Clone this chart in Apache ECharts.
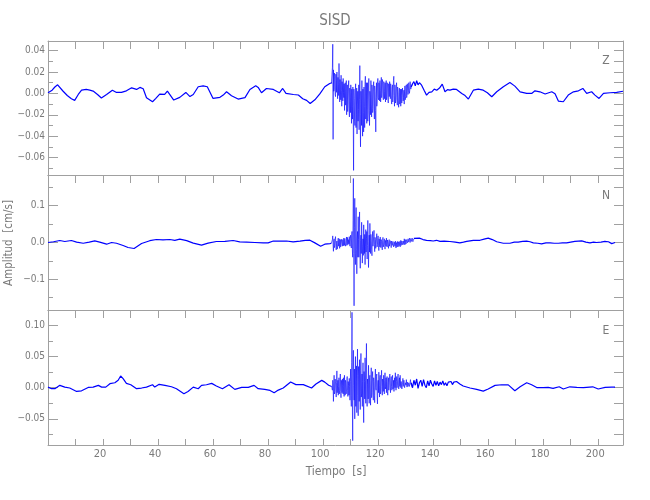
<!DOCTYPE html>
<html>
<head>
<meta charset="utf-8">
<script src="https://cdn.jsdelivr.net/npm/echarts@6/dist/echarts.min.js"></script>
<style>html,body{margin:0;padding:0;background:#fff}#c{width:650px;height:500px}</style>
</head>
<body>
<div id="c"></div>
<script>
// ---------- DATA ----------
const title = 'SISD';
const components = ['Z', 'N', 'E'];
const xTicks = [20, 40, 60, 80, 100, 120, 140, 160, 180, 200];
// strong-motion segment: values evenly spaced in time between start and end
const burstStart = 103.25;
const burstEnds = [132.0, 133.0, 132.0];

// Z component (cm/s)
const zBefore = [[0,0.0006],[1.5,0.003],[2.5,0.006],[3.5,0.008],[4.2,0.007],[5.5,0.002],[7,-0.002],[8.5,-0.005],[9.7,-0.0065],[11,-0.001],[12.2,0.003],[13.9,0.0037],[15.2,0.003],[16.4,0.0022],[18,-0.001],[19.4,-0.0043],[21.3,-0.001],[23.4,0.003],[24.9,0.0009],[26.7,0.001],[28.5,0.0024],[30.4,0.0052],[32.2,0.0037],[33.4,0.0056],[34.6,0.0043],[35.8,-0.004],[38,-0.0078],[39.2,-0.0047],[40.6,-0.0006],[42.4,-0.001],[43.4,0.0022],[45.7,-0.0062],[47.9,-0.0037],[50.1,0.0009],[51.6,-0.003],[52.8,-0.001],[54.6,0.0062],[56.4,0.0071],[57.9,0.0062],[60,-0.0047],[62.5,-0.0037],[63.7,-0.0016],[64.9,0.0015],[66.7,-0.0022],[69.1,-0.0053],[71.6,-0.004],[73.4,0.0037],[75.5,0.0071],[76.4,0.0056],[77.6,0.0006],[79.4,0.0046],[81.9,0.0037],[84.1,0.0006],[85.3,0.0046],[86.5,0],[89.2,-0.001],[91,-0.0015],[92.6,-0.005],[94,-0.0065],[95.3,-0.0095],[97,-0.006],[98.8,-0.0005],[100.6,0.0062],[102.4,0.0093],[103,0.0095]];
const zBurst = [0.010,0.024,0.046,-0.043,0.022,0.002,0.004,0.019,0.016,-0.001,-0.003,0.018,0.012,0.001,0.020,0.006,-0.005,0.015,0.008,-0.002,0.028,0.010,-0.008,0.013,0.004,-0.006,0.017,0.003,-0.012,0.011,0.006,-0.007,0.014,0.001,-0.004,0.009,-0.016,0.004,0.010,-0.011,0.002,0.012,-0.020,-0.006,0.008,-0.017,-0.010,0.006,0.012,-0.014,-0.022,0.005,-0.004,-0.018,0.008,0.001,-0.028,0.004,-0.012,-0.024,0.006,-0.020,-0.072,0.004,-0.005,-0.026,-0.030,0.003,0.009,-0.032,-0.020,0.005,-0.038,-0.010,0.002,-0.026,-0.015,0.008,-0.034,-0.006,0.026,-0.020,-0.050,0.002,-0.008,-0.030,0.012,-0.024,-0.040,0.004,-0.018,-0.036,0.006,-0.012,-0.032,0.008,0.016,-0.024,-0.012,0.010,-0.028,-0.006,0.010,-0.026,-0.020,0.006,0.014,-0.016,-0.030,0.002,-0.004,-0.020,0.012,-0.010,-0.022,0.008,0.004,-0.018,-0.014,0.006,0.011,-0.012,-0.024,0.007,0.002,-0.016,-0.036,-0.004,0.010,-0.012,-0.008,0.009,0.014,-0.004,-0.006,0.010,0.004,-0.007,0.012,0.003,-0.008,0.006,0.015,-0.004,0.000,0.013,0.010,-0.004,-0.006,0.011,0.009,-0.005,0.002,0.010,-0.008,0.004,0.012,-0.006,-0.003,0.010,0.008,-0.004,-0.009,0.009,0.006,-0.003,0.011,0.002,-0.005,0.009,0.004,-0.007,-0.010,0.005,0.008,-0.008,-0.002,0.012,0.016,-0.002,-0.012,0.008,0.006,-0.009,-0.006,0.007,0.010,-0.004,-0.011,0.006,0.002,-0.009,-0.013,0.001,0.005,-0.010,-0.006,0.004,-0.012,-0.002,0.004,-0.009,-0.008,0.005,0.006,-0.007,-0.004,0.003,-0.010,0.002,0.007,-0.006,-0.003,0.006,0.008,-0.004,-0.002,0.009,0.010,-0.001,0.001,0.010,0.011,0.000,0.003,0.011,0.012,0.004,0.006];
const zAfter = [[132.5,0.009],[133,0.011],[133.5,0.007],[134,0.012],[134.5,0.008],[135,0.010],[135.8,0.0077],[136.7,0.003],[137.6,-0.0016],[138.5,0.001],[139.5,0.0015],[140.4,0.004],[141.3,0.003],[142.3,0.005],[143.3,0.0087],[144.3,0.0015],[145.2,0.0035],[146.1,0.003],[147.3,0.004],[148.5,0.0037],[150.4,0],[151.6,-0.002],[152.8,-0.0053],[154.6,0.003],[156.4,0.004],[158.2,0.003],[159.7,0.0006],[161.3,-0.0031],[163.1,0.0015],[165.5,0.0062],[167.9,0.0102],[169.7,0.0068],[171.6,0.0015],[174,0],[175.8,0],[177,0.0024],[178.8,0.0015],[180.7,-0.0006],[183.1,0.0015],[184.3,-0.0003],[185.5,-0.0072],[187.3,-0.0078],[189.1,-0.0016],[191,0.0015],[192.8,0.0024],[194.4,0.0046],[195.8,0],[197.6,0.0015],[198.8,-0.0016],[200.3,-0.0047],[201.9,0],[204.3,0.0006],[206.7,0.0009],[209,0.002]];

// N component (cm/s)
const nBefore = [[0,0],[2,0.002],[4.3,0.0054],[6.1,0.0027],[8.5,0.0054],[10.4,0.001],[12.8,-0.002],[15,0.001],[17,0.0043],[18.8,0.001],[21.3,-0.0046],[23.1,0],[24.9,-0.002],[27.3,-0.0082],[29.1,-0.0136],[31.3,-0.0163],[34,-0.0027],[37,0.0049],[39.4,0.0082],[41.8,0.007],[44.3,0.0082],[46.1,0.006],[47.9,0.009],[50.4,0.005],[52.8,-0.0018],[55.8,-0.0073],[58.2,-0.0018],[61.2,0.0027],[64.3,0.003],[67.3,0.0054],[69.7,0.0016],[72.2,0.001],[75.2,0],[78.2,-0.001],[80,-0.001],[81.9,0.004],[84.3,0.004],[86.7,0.004],[89.1,0.0016],[91.6,0.0036],[93.5,0.006],[95.2,0.0063],[97,-0.001],[99.1,-0.01],[100.6,-0.0046],[102.5,-0.003],[103,-0.002]];
const nBurst = [-0.002,0.008,0.018,-0.006,-0.024,0.004,0.010,-0.014,-0.008,0.008,0.016,-0.004,-0.020,-0.002,0.004,-0.018,-0.012,0.006,0.012,-0.010,0.000,0.010,-0.016,-0.003,0.008,-0.012,-0.006,0.009,0.013,-0.004,-0.010,0.008,0.004,-0.009,0.012,0.002,-0.008,0.011,0.006,-0.010,-0.004,0.006,0.015,-0.008,0.002,0.014,-0.006,0.008,0.012,-0.004,0.016,-0.002,-0.010,0.012,0.020,-0.006,-0.015,0.018,0.030,-0.020,-0.040,0.060,0.174,-0.030,-0.172,0.040,0.120,-0.030,-0.060,0.050,0.095,-0.020,-0.085,0.010,0.030,-0.040,0.070,0.008,-0.040,0.040,0.083,-0.020,-0.070,0.006,0.020,-0.030,0.055,0.012,-0.056,-0.012,0.010,-0.035,0.048,0.004,-0.030,0.022,-0.060,-0.010,0.035,-0.026,0.010,0.030,-0.045,-0.008,0.060,0.002,-0.068,-0.014,0.020,-0.026,0.052,0.006,-0.030,0.022,0.004,-0.020,-0.036,0.012,0.030,-0.010,-0.012,0.016,0.033,-0.006,-0.025,0.014,0.008,-0.016,-0.020,0.010,0.024,-0.012,-0.006,0.012,0.018,-0.008,-0.022,0.010,0.006,-0.012,0.015,0.002,-0.014,0.008,0.002,-0.010,-0.020,0.006,0.014,-0.012,-0.006,0.004,0.010,-0.008,-0.018,0.006,0.004,-0.010,0.012,0.001,-0.012,0.007,0.003,-0.006,-0.016,0.002,0.008,-0.010,-0.004,0.005,0.010,-0.006,-0.014,0.004,0.002,-0.008,-0.010,0.003,0.006,-0.012,-0.014,0.001,-0.002,-0.010,0.004,-0.008,-0.015,0.000,-0.006,-0.012,0.003,-0.004,-0.012,0.002,0.005,-0.009,-0.008,0.003,-0.012,-0.002,0.006,-0.008,-0.004,0.004,0.008,-0.006,-0.010,0.004,0.002,-0.006,0.010,0.000,-0.006,0.008,0.006,-0.004,-0.002,0.008,0.012,-0.001,0.002,0.010,0.014,0.001,0.004,0.012,0.010,0.000,0.002,0.011,0.013,0.003,0.006,0.012,0.010,0.002,0.004,0.009,0.011];
const nAfter = [[133.4,0.011],[135,0.012],[136.3,0.008],[137.6,0.006],[139,0.005],[140,0.004],[141.2,0.006],[142.5,0.003],[144,0.004],[146.1,0.0027],[148,0.001],[149.7,-0.001],[151,0.001],[152.2,0.003],[154.6,0.006],[157,0.006],[158.5,0.009],[160,0.0117],[161.5,0.008],[163.1,0.002],[165.5,-0.002],[167.9,-0.002],[169.5,0.001],[170.9,0.001],[172.5,0.003],[174,0.0036],[175.2,0.002],[176.4,-0.001],[178,-0.002],[179.4,-0.0036],[181,-0.001],[182.5,-0.001],[184,-0.002],[185.5,-0.002],[187,-0.001],[188.5,-0.001],[190,0.001],[191.5,0.003],[194,0.0045],[195.5,0.001],[197,-0.001],[198.3,0.001],[199.4,0],[201,0.001],[202.4,0.003],[203.7,0.002],[204.9,-0.003],[206.1,0]];

// E component (cm/s)
const eBefore = [[0,0.001],[1.3,-0.0016],[2.5,-0.0016],[4.3,0.0038],[6.1,0.001],[7.9,-0.0005],[10.4,-0.006],[12.2,-0.005],[14.6,0.0005],[16.4,0.001],[18.3,0.0038],[19.5,0.001],[21,0.001],[22.5,0.0065],[24.3,0.008],[25.5,0.012],[26.4,0.0188],[27.3,0.0145],[28.5,0.007],[30.1,0.0048],[32.2,-0.0016],[34,-0.0005],[35.8,0.001],[38,0.0048],[38.8,0.001],[40.4,0.0054],[42.5,0.0038],[44.9,0.0016],[46.7,-0.0016],[49.4,-0.0097],[50.9,-0.006],[52.8,0.001],[54.6,-0.0016],[55.8,0.0038],[57.6,0.0048],[59.5,0.007],[61.2,0.0027],[63.4,-0.0016],[65.8,0.0048],[67.9,-0.0027],[70.4,0.0005],[72.8,0.0005],[74.9,0.0038],[76.4,-0.0016],[78.8,-0.0027],[80.7,-0.0043],[82.2,-0.008],[83.7,-0.0038],[85.5,-0.0005],[88.2,0.0091],[90.1,0.005],[92.8,0.005],[95.8,-0.0005],[97.4,0.006],[99.5,0.0118],[100.6,0.009],[102,0.004],[103.1,0.002]];
const eBurst = [0.002,-0.004,0.012,0.004,-0.022,0.006,0.020,-0.010,-0.006,0.014,0.010,-0.002,-0.015,0.008,0.027,-0.008,0.004,0.012,-0.012,0.002,0.016,-0.010,-0.004,0.010,0.022,-0.006,-0.016,0.012,0.006,-0.008,0.014,0.004,-0.010,0.016,0.002,-0.014,0.020,0.006,-0.012,0.012,0.008,-0.010,-0.006,0.012,0.018,-0.004,-0.014,0.010,0.004,-0.012,0.015,0.002,-0.020,0.010,0.030,-0.012,-0.030,0.040,0.121,-0.020,-0.085,0.030,0.060,0.004,-0.020,0.030,-0.050,0.012,0.050,-0.030,0.010,0.035,-0.040,0.020,0.062,-0.012,-0.045,0.034,0.020,-0.022,0.045,0.006,-0.035,0.028,0.055,-0.015,-0.010,0.022,-0.030,0.010,0.040,-0.020,-0.056,0.026,0.010,-0.018,0.048,0.012,-0.025,0.030,0.071,-0.010,-0.030,0.014,0.005,-0.018,0.036,0.008,-0.025,0.016,0.020,-0.014,-0.028,0.012,0.032,-0.016,-0.008,0.018,0.026,-0.010,-0.020,0.016,0.010,-0.012,-0.024,0.014,0.030,0.000,-0.004,0.018,0.022,-0.012,-0.026,0.006,0.012,-0.008,0.025,0.004,-0.015,0.014,0.020,-0.010,-0.006,0.016,0.028,0.002,-0.012,0.014,0.008,-0.006,0.020,0.006,-0.010,0.012,0.024,-0.002,0.002,0.016,-0.008,0.010,0.018,-0.006,-0.012,0.008,0.016,-0.004,0.004,0.016,0.022,0.000,-0.008,0.012,0.018,0.002,-0.004,0.014,0.020,-0.002,0.002,0.012,-0.006,0.008,0.016,0.000,0.024,0.006,-0.004,0.010,0.018,0.000,0.004,0.016,0.022,0.004,-0.002,0.012,0.016,0.002,0.020,0.006,0.000,0.010,0.012,-0.002,-0.003,0.008,0.015,0.002,0.004,0.012,0.014,0.000,-0.002,0.008,0.010,0.004,0.013,0.006,0.001,0.009,0.012,0.002,-0.001,0.008,0.010,0.002,0.003,0.009,0.013,0.006,0.008];
const eAfter = [[132.5,0.0],[133,0.012],[133.5,0.004],[134,0.014],[134.5,-0.001],[135,0.008],[135.5,0.012],[136,0.002],[136.5,0.013],[137,0.004],[137.5,0.0],[138,0.011],[138.5,0.003],[139,0.012],[139.5,0.006],[140,0.002],[140.5,0.011],[141,0.004],[141.5,0.010],[142,0.003],[142.5,0.009],[143,0.005],[143.5,0.011],[144,0.004],[144.5,0.008],[145,0.003],[145.5,0.009],[146,0.006],[146.5,0.010],[147,0.005],[147.5,0.009],[148,0.006],[148.5,0.010],[149,0.007],[149.7,0.006],[150.9,0.0027],[153.4,-0.0005],[155.8,-0.0027],[158.2,-0.0054],[160,-0.002],[162.5,0.0038],[164.9,0.0048],[167.3,0.0045],[169.7,-0.0048],[171.6,0.0015],[174,0.008],[175.8,0.0048],[177.8,0],[180,0],[181.8,0.0005],[183.6,-0.001],[185.8,0.0015],[187.3,-0.002],[189.7,0.0015],[192.2,0.0005],[194.6,0.0003],[198,0.0015],[200,-0.002],[202.5,0.0005],[204.9,0.001],[206.1,0.001]];

// axis ranges per panel
const yMins = [-0.0763, -0.1834, -0.0919];
const yMaxs = [0.0490, 0.1834, 0.1247];
const ySteps = [0.02, 0.1, 0.05];
const yDigits = [2, 1, 2];
const xMin = 0, xMax = 209;

// ---------- CHART ----------
const FONT = '"DejaVu Sans Condensed", "DejaVu Sans", sans-serif';
const LINE = '#a0a0a0';
const TXT = '#7a7a7a';
const BLUE = '#0000ff';
const gridTops = [41, 175, 310];
const gridHeights = [134, 135, 135];

const parts = [[zBefore, zBurst, zAfter], [nBefore, nBurst, nAfter], [eBefore, eBurst, eAfter]];

const grids = [], xAxes = [], yAxes = [], series = [];
for (let i = 0; i < 3; i++) {
  grids.push({left: 48, right: 27, top: gridTops[i], height: gridHeights[i], outerBoundsMode: 'none', containLabel: false});
  const last = i === 2;
  xAxes.push({
    type: 'value', gridIndex: i, position: 'bottom', min: xMin, max: xMax, interval: 10,
    axisLine: {show: true, onZero: false, lineStyle: {color: LINE, width: 1}},
    axisTick: {show: last, inside: true, length: 6, lineStyle: {color: LINE}},
    axisLabel: {show: last, color: TXT, fontFamily: FONT, fontSize: 11, margin: 4,
      padding: [0, 6, 0, 0],
      formatter: v => (xTicks.indexOf(Math.round(v)) >= 0 && Math.abs(v - Math.round(v)) < 1e-6) ? String(Math.round(v)) : ''},
    splitLine: {show: false}
  });
  xAxes.push({
    type: 'value', gridIndex: i, position: 'top', min: xMin, max: xMax, interval: 10,
    axisLine: {show: true, onZero: false, lineStyle: {color: LINE, width: 1}},
    axisTick: {show: true, inside: true, length: 8, lineStyle: {color: LINE}},
    axisLabel: {show: false}, splitLine: {show: false}
  });
  const step = ySteps[i], dig = yDigits[i];
  const fmt = v => {
    const r = v / step;
    if (Math.abs(r - Math.round(r)) > 1e-6) return '';
    return (Math.round(r) * step).toFixed(dig).replace('-', '\u2212');
  };
  const splitN = Math.round((yMaxs[i] - yMins[i]) / step);
  yAxes.push({
    type: 'value', gridIndex: i, position: 'left', min: yMins[i], max: yMaxs[i], splitNumber: splitN,
    axisLine: {show: true, onZero: false, lineStyle: {color: LINE, width: 1}},
    axisTick: {show: true, inside: true, length: 10, lineStyle: {color: LINE}},
    minorTick: {show: true, splitNumber: 2, length: 5, lineStyle: {color: LINE}},
    axisLabel: {show: true, color: TXT, fontFamily: FONT, fontSize: 10, margin: 3, formatter: fmt,
      showMinLabel: false, showMaxLabel: false},
    splitLine: {show: false}, minorSplitLine: {show: false}
  });
  yAxes.push({
    type: 'value', gridIndex: i, position: 'right', min: yMins[i], max: yMaxs[i], splitNumber: splitN,
    axisLine: {show: true, onZero: false, lineStyle: {color: LINE, width: 1}},
    axisTick: {show: true, inside: true, length: 9, lineStyle: {color: LINE}},
    minorTick: {show: true, splitNumber: 2, length: 9, lineStyle: {color: LINE}},
    axisLabel: {show: false}, splitLine: {show: false}, minorSplitLine: {show: false}
  });
  const [pre, burst, post] = parts[i];
  const dt = (burstEnds[i] - burstStart) / (burst.length - 1);
  const burstPts = burst.map((v, k) => [burstStart + k * dt, v]);
  const common = {type: 'line', xAxisIndex: 2 * i, yAxisIndex: 2 * i, showSymbol: false, symbol: 'none',
    sampling: 'none', smooth: false, clip: true, silent: true, itemStyle: {color: BLUE}};
  series.push(Object.assign({}, common, {data: pre.concat([burstPts[0]]), lineStyle: {color: BLUE, width: 1.2}}));
  series.push(Object.assign({}, common, {data: [pre[pre.length - 1]].concat(burstPts, [post[0]]), lineStyle: {color: BLUE, width: 0.7, opacity: 0.85}}));
  series.push(Object.assign({}, common, {data: [burstPts[burstPts.length - 1]].concat(post), lineStyle: {color: BLUE, width: 1.2}}));
}

const labelYs = [61, 196, 331];
const graphic = [
  {type: 'text', x: 335, y: 21, style: {text: title, fill: TXT, font: '15px ' + FONT, textAlign: 'center', textVerticalAlign: 'middle'}},
  {type: 'text', x: 9, y: 243, rotation: Math.PI / 2, style: {text: 'Amplitud  [cm/s]', fill: TXT, font: '11.5px ' + FONT, textAlign: 'center', textVerticalAlign: 'middle'}},
  {type: 'text', x: 336, y: 472, style: {text: 'Tiempo  [s]', fill: TXT, font: '12px ' + FONT, textAlign: 'center', textVerticalAlign: 'middle'}}
];
components.forEach((c, i) => graphic.push({type: 'text', x: 606, y: labelYs[i],
  style: {text: c, fill: TXT, font: '12px ' + FONT, textAlign: 'center', textVerticalAlign: 'middle'}}));

const chart = echarts.init(document.getElementById('c'), null, {renderer: 'canvas'});
chart.setOption({
  animation: false,
  backgroundColor: '#ffffff',
  grid: grids, xAxis: xAxes, yAxis: yAxes, series: series, graphic: graphic
});
</script>
</body>
</html>
